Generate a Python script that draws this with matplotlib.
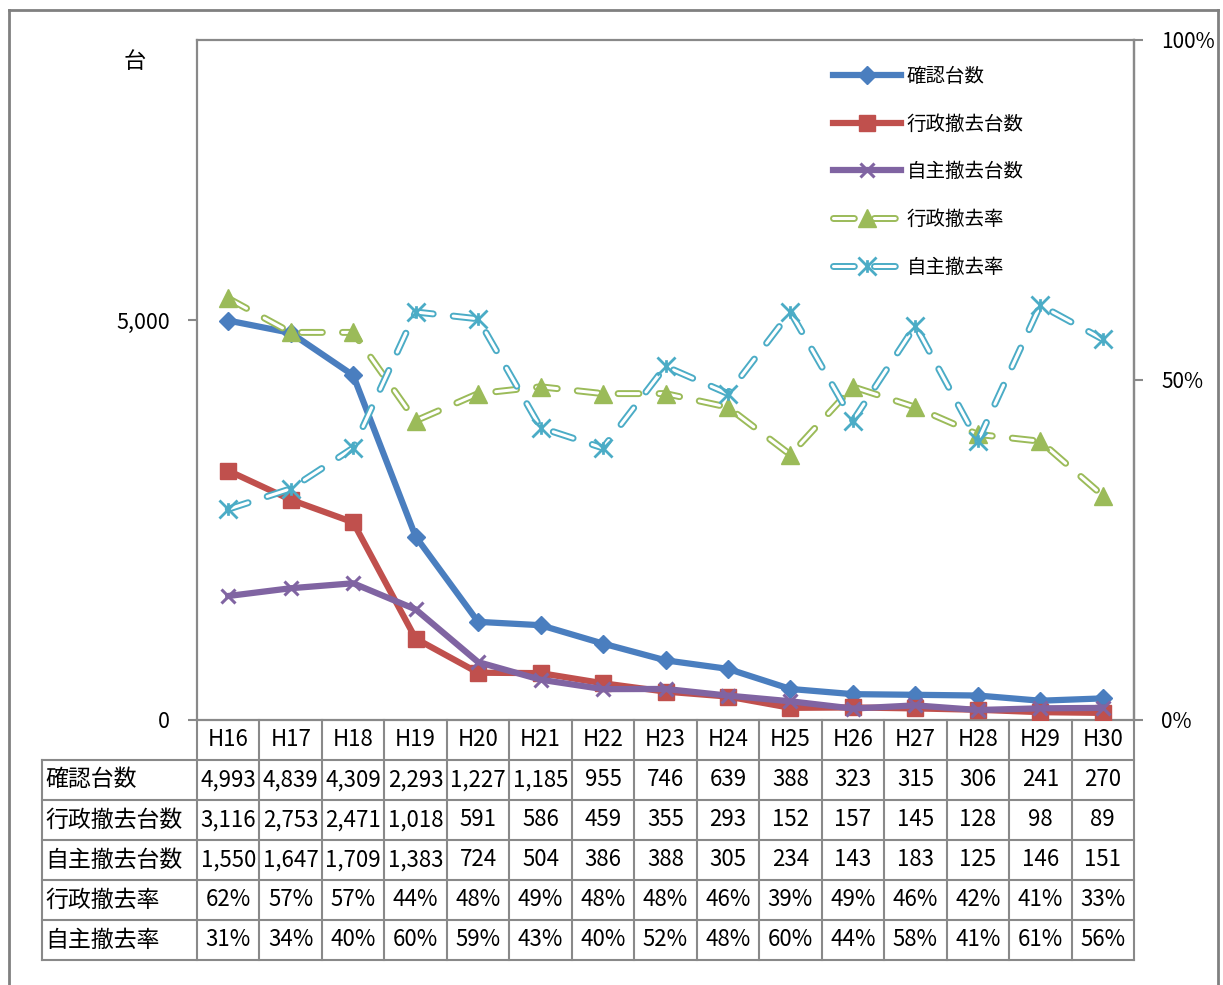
import matplotlib
matplotlib.use("Agg")
import matplotlib.pyplot as plt
import matplotlib.patheffects as pe
from matplotlib.path import Path
from matplotlib.lines import Line2D
from matplotlib.legend_handler import HandlerTuple
import numpy as np

plt.rcParams['font.family'] = ['Noto Sans CJK JP', 'DejaVu Sans']

# データ
years = ["H16", "H17", "H18", "H19", "H20", "H21", "H22", "H23",
         "H24", "H25", "H26", "H27", "H28", "H29", "H30"]
kakunin = [4993, 4839, 4309, 2293, 1227, 1185, 955, 746, 639, 388, 323, 315, 306, 241, 270]
gyosei = [3116, 2753, 2471, 1018, 591, 586, 459, 355, 293, 152, 157, 145, 128, 98, 89]
jishu = [1550, 1647, 1709, 1383, 724, 504, 386, 388, 305, 234, 143, 183, 125, 146, 151]
gyosei_rate = [62, 57, 57, 44, 48, 49, 48, 48, 46, 39, 49, 46, 42, 41, 33]
jishu_rate = [31, 34, 40, 60, 59, 43, 40, 52, 48, 60, 44, 58, 41, 61, 56]

names = ["確認台数", "行政撤去台数", "自主撤去台数", "行政撤去率", "自主撤去率"]

BLUE = "#4A7EBF"
RED = "#C0504D"
PURPLE = "#8064A2"
GREEN = "#9BBB59"
CYAN = "#4BACC6"
GRID = "#898989"

W, H = 1223, 985
fig = plt.figure(figsize=(W / 100, H / 100), dpi=100)

# 外枠
for xs, ys in [([9, 9], [-10, 975]), ([9, 1218], [975, 975]), ([1218, 1218], [975, -10])]:
    fig.add_artist(Line2D(np.array(xs) / W, np.array(ys) / H, color="#808080", lw=2))

# グラフ領域
ax = fig.add_axes([197 / W, 265 / H, 937 / W, 680 / H])
ax2 = ax.twinx()
x = np.arange(len(years))

ax.plot(x, kakunin, color=BLUE, lw=4.5, marker="D", ms=9, label=names[0], zorder=3)
ax.plot(x, gyosei, color=RED, lw=4.5, marker="s", ms=11, label=names[1], zorder=3)
ax.plot(x, jishu, color=PURPLE, lw=4.5, marker="x", ms=10, mew=2.2, label=names[2], zorder=3)

# アスタリスク型マーカー
star = Path([(0, -0.7), (0, 0.7), (-1, -1), (1, 1), (-1, 1), (1, -1)],
            [Path.MOVETO, Path.LINETO, Path.MOVETO, Path.LINETO, Path.MOVETO, Path.LINETO])

hollow = [pe.Normal(), pe.Stroke(linewidth=2.2, foreground="white")]
handles2 = []
for vals, col, mk, ms, mew in [(gyosei_rate, GREEN, "^", 13, 1),
                               (jishu_rate, CYAN, star, 13, 2)]:
    v = np.array(vals) / 100
    ln, = ax2.plot(x, v, color=col, lw=5.0, ls=(0, (3.0, 2.9)),
                   dash_capstyle="round", path_effects=hollow)
    mkr, = ax2.plot(x, v, ls="none", marker=mk, ms=ms, mew=mew, color=col)
    handles2.append((ln, mkr))

ax.set_xlim(-0.5, len(years) - 0.5)
ax.set_ylim(0, 8500)
ax2.set_ylim(0, 1)
ax.set_yticks([0, 5000])
ax.set_yticklabels(["0", "5,000"])
ax2.set_yticks([0, 0.5, 1])
ax2.set_yticklabels(["0%", "50%", "100%"])
ax.set_xticks([])

for a in (ax, ax2):
    for s in a.spines.values():
        s.set_color(GRID)
        s.set_linewidth(1.6)
    a.tick_params(axis="y", length=6.5, width=1.5, color=GRID, labelsize=15, pad=13)
ax.tick_params(axis="y", labelsize=15.5)
ax2.spines["left"].set_visible(False)
ax2.spines["bottom"].set_visible(False)
ax2.spines["top"].set_visible(False)

fig.text(135 / W, 1 - 62 / H, "台", fontsize=16, ha="center", va="center")

h1, _ = ax.get_legend_handles_labels()
leg = ax2.legend(h1 + handles2, names, loc="upper left",
                 bbox_to_anchor=(833 / W, 1 - 66 / H), bbox_transform=fig.transFigure,
                 frameon=False, fontsize=14, handlelength=3.5, handletextpad=0.3,
                 labelspacing=1.37, borderpad=0, borderaxespad=0,
                 handler_map={tuple: HandlerTuple(ndivide=1)})

# データテーブル
colw = 937 / len(years)
x0 = -0.5 - 155 / colw
tax = fig.add_axes([42 / W, 25 / H, 1092 / W, 240 / H])
tax.set_xlim(x0, len(years) - 0.5)
tax.set_ylim(6, 0)
tax.axis("off")

for r in range(1, 7):
    tax.plot([x0, len(years) - 0.5], [r, r], color=GRID, lw=1.5, clip_on=False)
for i in range(len(years) + 1):
    tax.plot([i - 0.5, i - 0.5], [0, 6], color=GRID, lw=1.5, clip_on=False)
tax.plot([x0, x0], [1, 6], color=GRID, lw=1.5, clip_on=False)

for i, yr in enumerate(years):
    tax.text(i, 0.5, yr, ha="center", va="center", fontsize=16)

rows = [[f"{v:,}" for v in kakunin],
        [f"{v:,}" for v in gyosei],
        [f"{v:,}" for v in jishu],
        [f"{v}%" for v in gyosei_rate],
        [f"{v}%" for v in jishu_rate]]
for r, (name, row) in enumerate(zip(names, rows)):
    tax.text(x0 + 0.05, r + 1.5, name, ha="left", va="center", fontsize=16.5)
    for i, s in enumerate(row):
        tax.text(i, r + 1.5, s, ha="center", va="center", fontsize=16)

fig.savefig("out.png", dpi=100)
